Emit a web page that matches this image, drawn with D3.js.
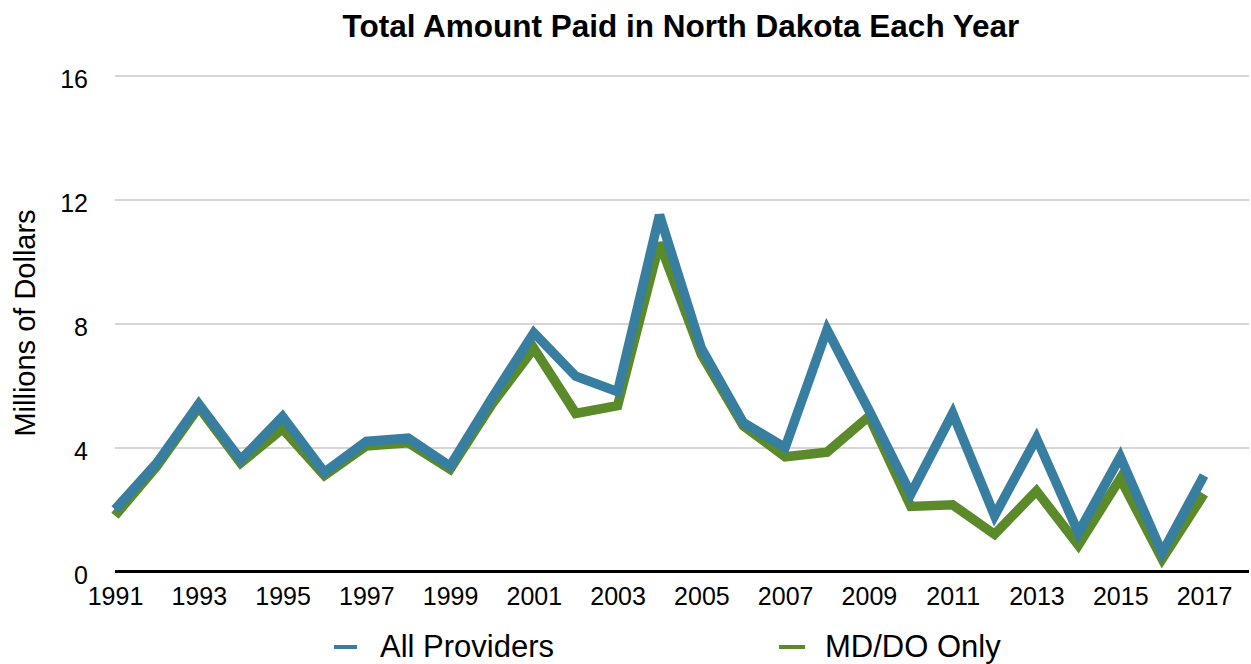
<!DOCTYPE html>
<html>
<head>
<meta charset="utf-8">
<script src="https://cdn.jsdelivr.net/npm/d3@7/dist/d3.min.js"></script>
<style>
  html, body { margin: 0; padding: 0; background: #fff; }
  svg { display: block; font-family: "Liberation Sans", Arial, Helvetica, sans-serif; }
</style>
</head>
<body>
<svg id="chart" width="1251" height="664"></svg>
<script>
const years = d3.range(1991, 2018);
const allProviders = [2.0, 3.5, 5.4, 3.6, 5.0, 3.2, 4.2, 4.3, 3.4, 5.6, 7.7, 6.3, 5.8, 11.5, 7.2, 4.8, 4.0, 7.8, 5.2, 2.5, 5.1, 1.8, 4.3, 1.25, 3.7, 0.6, 3.1];
const mdDoOnly = [1.8, 3.4, 5.3, 3.5, 4.6, 3.1, 4.05, 4.15, 3.3, 5.4, 7.2, 5.1, 5.35, 10.6, 7.0, 4.7, 3.7, 3.85, 5.0, 2.1, 2.15, 1.2, 2.6, 0.85, 3.0, 0.4, 2.5];
const xTickLabels = [1991, 1993, 1995, 1997, 1999, 2001, 2003, 2005, 2007, 2009, 2011, 2013, 2015, 2017];
const yTicks = [0, 4, 8, 12, 16];
const seriesNames = ["All Providers", "MD/DO Only"];
const colors = ["#387ea1", "#5a8a2a"];

(function () {
const svg = d3.select("#chart");
const mLeft = 115, mRight = 1249, mTop = 75.5, mBottom = 571.5;

const x = d3.scaleLinear().domain([1991, 2017]).range([mLeft, 1204]);
const y = d3.scaleLinear().domain([0, 16]).range([mBottom, mTop]);

// title
svg.append("text")
  .attr("x", 681).attr("y", 37)
  .attr("text-anchor", "middle")
  .attr("font-size", 31.5).attr("font-weight", "bold")
  .attr("fill", "#000")
  .text("Total Amount Paid in North Dakota Each Year");

// y axis with gridlines
const yAxis = svg.append("g")
  .attr("transform", `translate(${mLeft},0)`)
  .call(d3.axisLeft(y).tickValues(yTicks).tickSize(-(mRight - mLeft)).tickPadding(27).tickFormat(d3.format("d")));
yAxis.select(".domain").remove();
yAxis.selectAll(".tick line").attr("stroke", "#c8c8c8").attr("stroke-width", 1.3);
yAxis.selectAll(".tick text")
  .attr("font-size", 25).attr("fill", "#000")
  .attr("font-family", "'Liberation Sans', Arial, Helvetica, sans-serif")
  .attr("dy", "0.47em");

// y axis title
svg.append("text")
  .attr("transform", "translate(35,323) rotate(-90)")
  .attr("text-anchor", "middle")
  .attr("font-size", 29).attr("fill", "#000")
  .text("Millions of Dollars");

// lines
const lineGen = d3.line().x((d, i) => x(years[i])).y(d => y(d));
[[mdDoOnly, colors[1]], [allProviders, colors[0]]].forEach(([vals, col]) => {
  svg.append("path")
    .datum(vals)
    .attr("d", lineGen)
    .attr("fill", "none")
    .attr("stroke", col)
    .attr("stroke-width", 9.5)
    .attr("stroke-linejoin", "miter")
    .attr("stroke-miterlimit", 3)
    .attr("stroke-linecap", "butt");
});

// x axis
const xAxis = svg.append("g")
  .attr("transform", `translate(0,${mBottom})`)
  .call(d3.axisBottom(x).tickValues(xTickLabels).tickSize(0).tickPadding(16).tickFormat(d3.format("d")));
xAxis.select(".domain").remove();
xAxis.selectAll(".tick text")
  .attr("font-size", 25).attr("fill", "#000")
  .attr("font-family", "'Liberation Sans', Arial, Helvetica, sans-serif");
svg.append("line")
  .attr("x1", mLeft).attr("x2", mRight)
  .attr("y1", y(0)).attr("y2", y(0))
  .attr("stroke", "#000").attr("stroke-width", 3);

// legend
const legendItems = [
  { name: seriesNames[0], color: colors[0], x1: 334, x2: 357, tx: 380 },
  { name: seriesNames[1], color: colors[1], x1: 779, x2: 805, tx: 825 }
];
legendItems.forEach(it => {
  svg.append("line")
    .attr("x1", it.x1).attr("x2", it.x2)
    .attr("y1", 647).attr("y2", 647)
    .attr("stroke", it.color).attr("stroke-width", 4);
  svg.append("text")
    .attr("x", it.tx).attr("y", 657)
    .attr("font-size", 31).attr("fill", "#000")
    .text(it.name);
});
})();
</script>
</body>
</html>
